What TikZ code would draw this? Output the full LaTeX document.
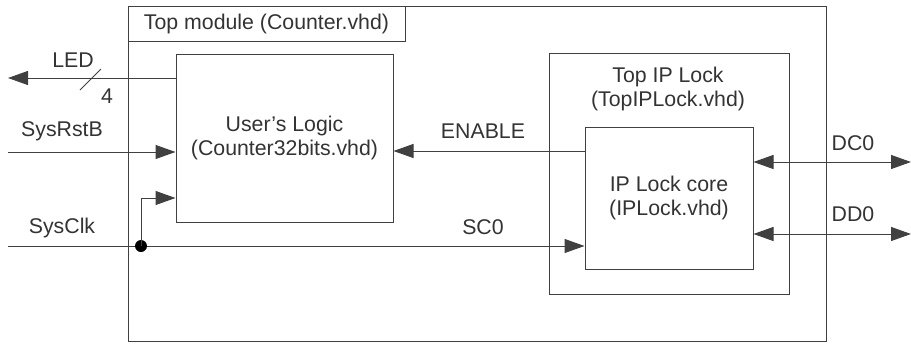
\documentclass[tikz,border=0pt]{standalone}
\usepackage{fontspec}
\setmainfont{Liberation Sans}
\usetikzlibrary{arrows.meta, positioning}
\tikzset{
  blk/.style={draw=black!75, line width=1pt, inner sep=0pt, align=center},
  sig/.style={draw=black!75, line width=1pt},
  tip/.style={-{Triangle[length=20pt,width=14pt]}},
  dtip/.style={{Triangle[length=20pt,width=14pt]}-{Triangle[length=20pt,width=14pt]}},
  lbl/.style={inner sep=0pt, text=black!80}
}

\begin{document}
\begin{tikzpicture}[x=1pt, y=-1pt, font=\fontsize{21.3}{24}\selectfont]
\useasboundingbox (0,0) rectangle (911,343);
%% boxes
  \node[blk, minimum width=698pt, minimum height=335pt] (top) at (477,173.5) {};
  \node[blk, minimum width=277pt, minimum height=35pt, text=black!80] (title) at (266.5,23.5) {Top module (Counter.vhd)};
  \node[blk, minimum width=217pt, minimum height=168pt, text=black!80] (logic) at (284.5,138) {User's Logic\\(Counter32bits.vhd)};
  \node[blk, minimum width=240pt, minimum height=241pt] (toplock) at (669,173.5) {};
  \node[lbl, align=center] (toplbl) at (668,89) {Top IP Lock\\(TopIPLock.vhd)};
  \node[blk, minimum width=168pt, minimum height=142pt, text=black!80] (core) at (669,198) {IP Lock core\\(IPLock.vhd)};
%% free ends
  \coordinate (ledout) at (8,78);
  \coordinate (rstin) at (8,152);
  \coordinate (clkin) at (8,246);
  \coordinate (dcout) at (911,162);
  \coordinate (ddout) at (911,234);
  \coordinate (clkdot) at (141,246);
%% LED
  \draw[sig, tip] (logic.west |- ledout) -- (ledout);
  \draw[sig] (80,90) -- (101,69);
  \node[lbl] (ledlbl) at (73,60) {LED};
  \node[lbl] (ledw) at (107,96) {4};
%% SysRstB
  \draw[sig, tip] (rstin) -- (logic.west |- rstin);
  \node[lbl] (rstlbl) at (62,131) {SysRstB};
%% SysClk
  \draw[sig, tip] (clkin) -- (core.west |- clkin);
  \fill[black] (clkdot) circle (6pt);
  \draw[sig, tip] (clkdot) |- (logic.west |- 0,198);
  \node[lbl] (clklbl) at (62,228) {SysClk};
  \node[lbl] (sclbl) at (483,227) {SC0};
%% ENABLE
  \draw[sig, tip] (core.west |- 0,151) -- (logic.east |- 0,151);
  \node[lbl] (enlbl) at (483,131) {ENABLE};
%% DC0 / DD0
  \draw[sig, dtip] (core.east |- dcout) -- (dcout);
  \node[lbl] (dclbl) at (853,143) {DC0};
  \draw[sig, dtip] (core.east |- ddout) -- (ddout);
  \node[lbl] (ddlbl) at (853,214) {DD0};
\end{tikzpicture}
\end{document}
